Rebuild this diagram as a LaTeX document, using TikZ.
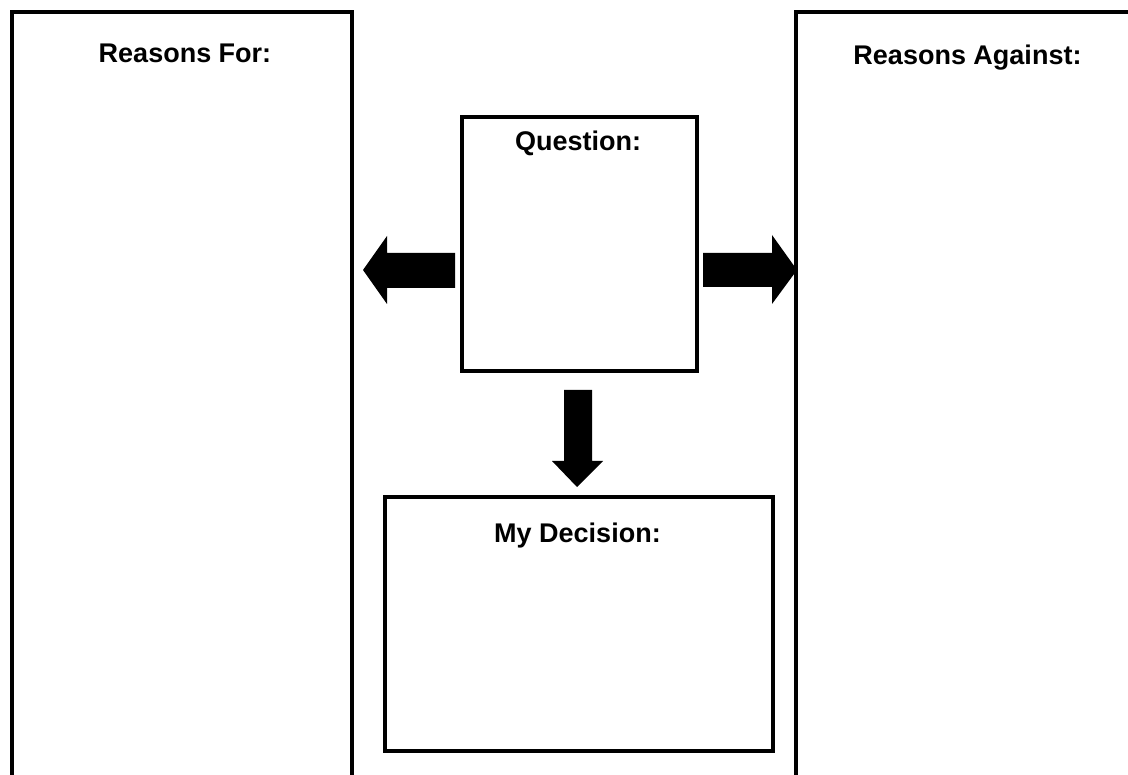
\documentclass[tikz,border=0pt]{standalone}
\usepackage{fontspec}
\setmainfont{Liberation Sans}
\begin{document}
\begin{tikzpicture}[x=1pt,y=-1pt,
  frame/.style={draw=black,line width=3.8pt,line join=miter},
  box/.style={draw=black,line width=3.5pt,minimum width=#1,inner sep=0pt},
  title/.style={font=\fontsize{27}{32}\selectfont\bfseries,anchor=base,inner sep=0pt},
  blockarrow/.style={fill=black,draw=none}]
\useasboundingbox (0,0) rectangle (1128,775);
% side columns
\draw[frame] (12,775) -- (12,12) -- (352,12) -- (352,775);
\draw[frame] (796,775) -- (796,12) -- (1130,12);
% central boxes
\node[box=235pt,minimum height=254pt] (q) at (579.5,244) {};
\node[box=388pt,minimum height=254pt] (d) at (579,624) {};
% titles
\node[title] (tfor) at (185,63) {Reasons For:};
\node[title] (tagainst) at (967.5,65) {Reasons Against:};
\node[title] (tq) at (578,151) {Question:};
\node[title] (td) at (577.5,543) {My Decision:};
% block arrows
\fill[blockarrow] (455,253) -- (387,253) -- (387,236) -- (363,270) -- (387,304) -- (387,288) -- (455,288) -- cycle;
\fill[blockarrow] (703,253) -- (772,253) -- (772,235) -- (797,270) -- (772,304) -- (772,287) -- (703,287) -- cycle;
\fill[blockarrow] (564,390) -- (592,390) -- (592,461) -- (603,461) -- (577,487) -- (552,461) -- (564,461) -- cycle;
\end{tikzpicture}
\end{document}
